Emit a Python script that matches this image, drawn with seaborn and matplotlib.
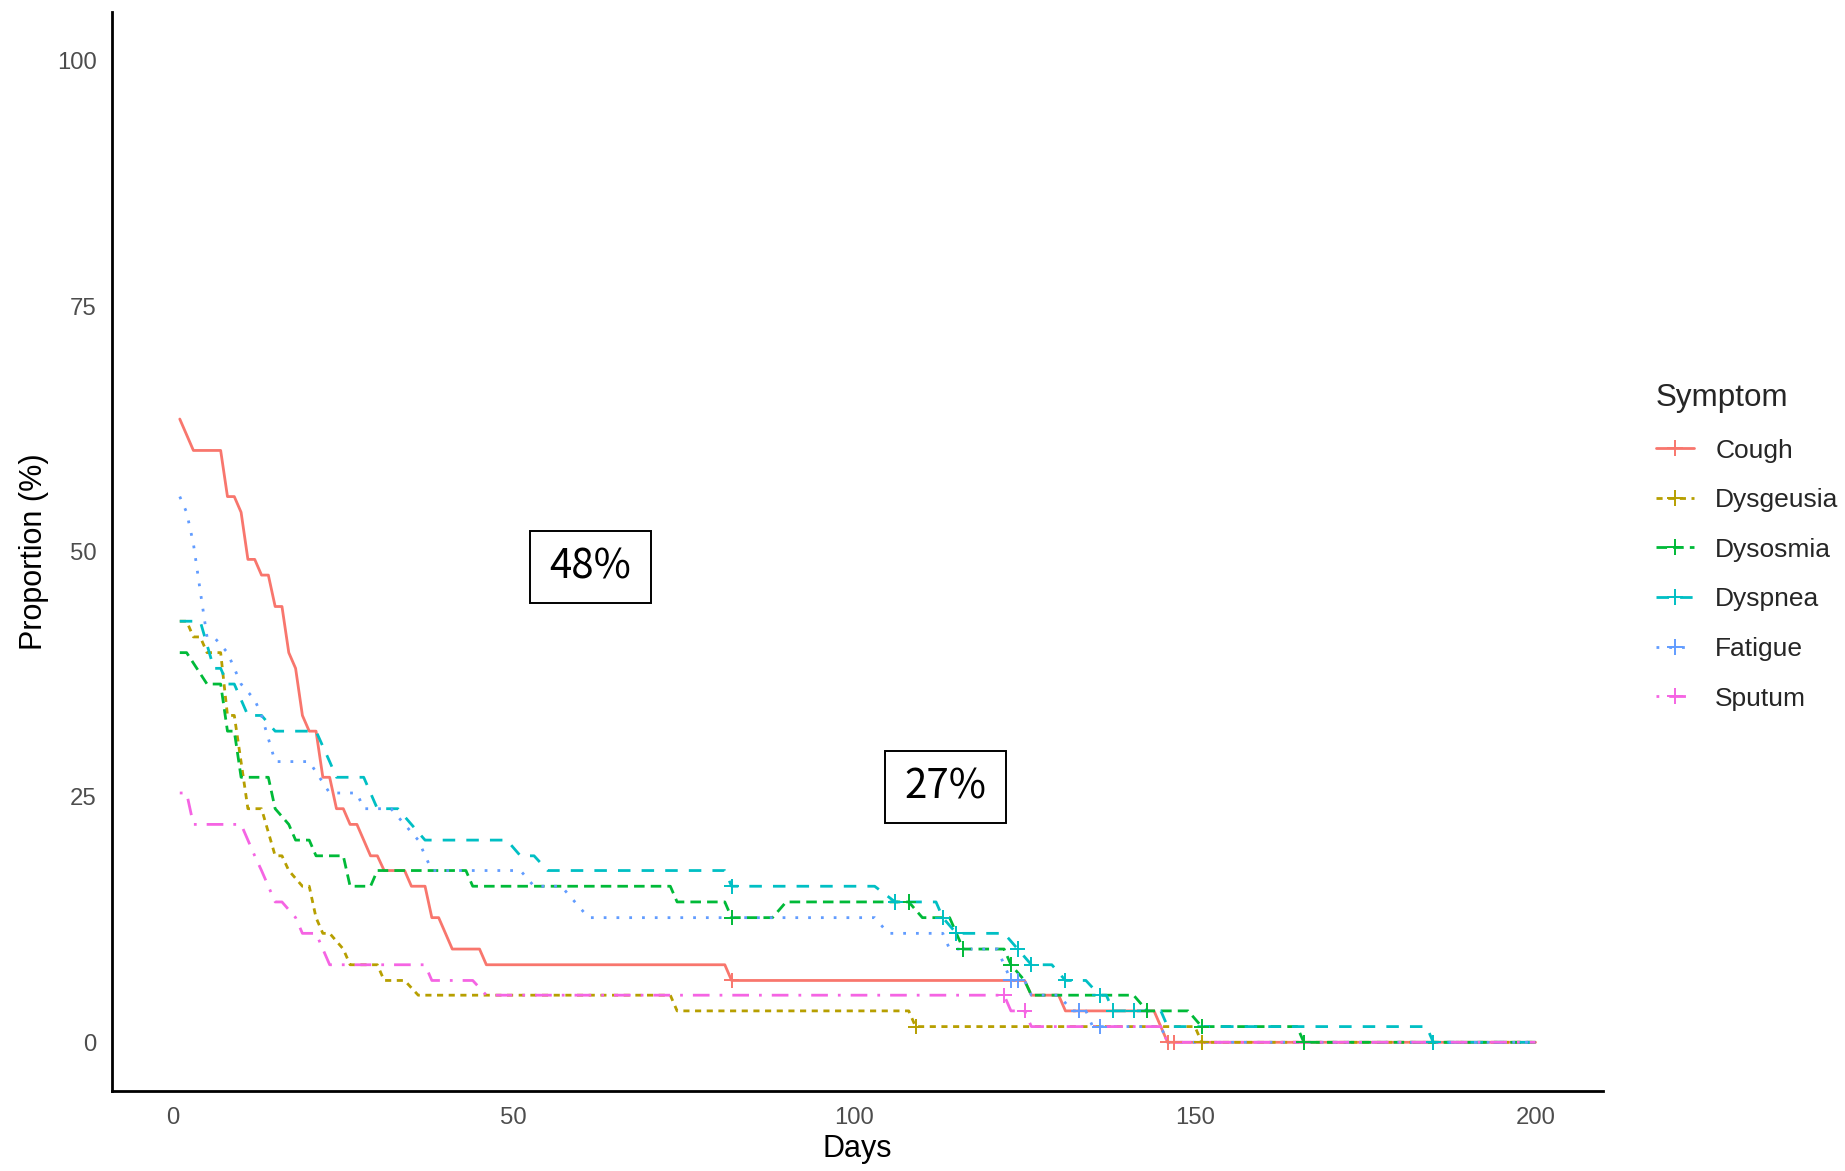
import matplotlib
matplotlib.use("Agg")
import matplotlib.pyplot as plt
from matplotlib.lines import Line2D
from matplotlib.patches import Rectangle
import seaborn as sns
import pandas as pd

# ---------------- data ----------------
symptoms = ["Cough", "Dysgeusia", "Dysosmia", "Dyspnea", "Fatigue", "Sputum"]

cough_days = [1, 2, 3, 7, 8, 9, 10, 11, 12, 13, 14, 15, 16, 17, 18, 19, 20, 21, 22, 23, 24, 25, 26, 27,
              29, 30, 31, 34, 35, 37, 38, 39, 41, 45, 46, 81, 82, 125, 126, 130, 131, 144, 146, 200]
cough_pct = [63.5, 61.9, 60.3, 60.3, 55.6, 55.6, 54.0, 49.2, 49.2, 47.6, 47.6, 44.4, 44.4, 39.7, 38.1,
             33.3, 31.7, 31.7, 27.0, 27.0, 23.8, 23.8, 22.2, 22.2, 19.0, 19.0, 17.5, 17.5, 15.9, 15.9,
             12.7, 12.7, 9.5, 9.5, 7.9, 7.9, 6.3, 6.3, 4.8, 4.8, 3.2, 3.2, 0.0, 0.0]

dysgeusia_days = [1, 2, 3, 4, 5, 7, 8, 9, 11, 13, 15, 16, 17, 19, 20, 21, 22, 23, 25, 26, 30, 31, 34,
                  36, 73, 74, 108, 109, 150, 151, 200]
dysgeusia_pct = [42.9, 42.9, 41.3, 41.3, 39.7, 39.7, 33.3, 33.3, 23.8, 23.8, 19.0, 19.0, 17.5, 15.9,
                 15.9, 12.7, 11.1, 11.1, 9.5, 7.9, 7.9, 6.3, 6.3, 4.8, 4.8, 3.2, 3.2, 1.6, 1.6, 0.0, 0.0]

dysosmia_days = [1, 2, 5, 7, 8, 9, 10, 14, 15, 17, 18, 20, 21, 25, 26, 29, 30, 43, 44, 73, 74, 81, 82,
                 88, 90, 108, 110, 114, 115, 116, 122, 123, 125, 126, 141, 143, 149, 151, 165, 166, 200]
dysosmia_pct = [39.7, 39.7, 36.5, 36.5, 31.7, 31.7, 27.0, 27.0, 23.8, 22.2, 20.6, 20.6, 19.0, 19.0,
                15.9, 15.9, 17.5, 17.5, 15.9, 15.9, 14.3, 14.3, 12.7, 12.7, 14.3, 14.3, 12.7, 12.7,
                11.1, 9.5, 9.5, 7.9, 6.3, 4.8, 4.8, 3.2, 3.2, 1.6, 1.6, 0.0, 0.0]

dyspnea_days = [1, 4, 6, 7, 8, 9, 10, 11, 12, 13, 15, 21, 23, 24, 28, 30, 33, 35, 37, 49, 51, 53, 55,
                81, 82, 103, 106, 112, 113, 115, 122, 124, 126, 129, 131, 134, 136, 137, 138, 145, 146,
                184, 185, 200]
dyspnea_pct = [42.9, 42.9, 38.1, 38.1, 36.5, 36.5, 34.9, 33.3, 33.3, 33.3, 31.7, 31.7, 28.6, 27.0,
               27.0, 23.8, 23.8, 22.2, 20.6, 20.6, 19.0, 19.0, 17.5, 17.5, 15.9, 15.9, 14.3, 14.3,
               12.7, 11.1, 11.1, 9.5, 7.9, 7.9, 6.3, 6.3, 4.8, 4.8, 3.2, 3.2, 1.6, 1.6, 0.0, 0.0]

fatigue_days = [1, 2, 3, 4, 5, 6, 8, 10, 12, 13, 15, 20, 23, 27, 28, 32, 34, 36, 38, 51, 53, 57, 61,
                103, 105, 113, 114, 121, 123, 125, 126, 130, 132, 134, 135, 145, 146, 200]
fatigue_pct = [55.6, 54.0, 50.8, 46.0, 41.3, 41.3, 39.7, 36.5, 34.9, 33.3, 28.6, 28.6, 25.4, 25.4,
               23.8, 23.8, 22.2, 20.6, 17.5, 17.5, 15.9, 15.9, 12.7, 12.7, 11.1, 11.1, 9.5, 9.5, 6.3,
               6.3, 4.8, 4.8, 3.2, 3.2, 1.6, 1.6, 0.0, 0.0]

sputum_days = [1, 2, 3, 10, 12, 13, 14, 15, 16, 18, 19, 21, 22, 23, 37, 38, 44, 46, 122, 123, 125,
               126, 145, 146, 200]
sputum_pct = [25.4, 25.4, 22.2, 22.2, 19.0, 17.5, 15.9, 14.3, 14.3, 12.7, 11.1, 11.1, 9.5, 7.9, 7.9,
              6.3, 6.3, 4.8, 4.8, 3.2, 3.2, 1.6, 1.6, 0.0, 0.0]

# censoring marks (+)
cough_cens_days = [82, 146, 147]
cough_cens_pct = [6.3, 0.0, 0.0]
dysgeusia_cens_days = [109, 151]
dysgeusia_cens_pct = [1.6, 0.0]
dysosmia_cens_days = [82, 108, 115, 116, 123, 143, 151, 166]
dysosmia_cens_pct = [12.7, 14.3, 11.1, 9.5, 7.9, 3.2, 1.6, 0.0]
dyspnea_cens_days = [82, 106, 113, 115, 124, 126, 131, 136, 138, 141, 185]
dyspnea_cens_pct = [15.9, 14.3, 12.7, 11.1, 9.5, 7.9, 6.3, 4.8, 3.2, 3.2, 0.0]
fatigue_cens_days = [123, 124, 133, 136]
fatigue_cens_pct = [6.3, 6.3, 3.2, 1.6]
sputum_cens_days = [122, 125]
sputum_cens_pct = [4.8, 3.2]

label_text = ["48%", "27%"]
label_x = [61.3, 113.4]
label_y = [48.4, 26.0]

x_ticks = [0, 50, 100, 150, 200]
y_ticks = [0, 25, 50, 75, 100]

# ---------------- assemble ----------------
series = {
    "Cough": (cough_days, cough_pct, cough_cens_days, cough_cens_pct),
    "Dysgeusia": (dysgeusia_days, dysgeusia_pct, dysgeusia_cens_days, dysgeusia_cens_pct),
    "Dysosmia": (dysosmia_days, dysosmia_pct, dysosmia_cens_days, dysosmia_cens_pct),
    "Dyspnea": (dyspnea_days, dyspnea_pct, dyspnea_cens_days, dyspnea_cens_pct),
    "Fatigue": (fatigue_days, fatigue_pct, fatigue_cens_days, fatigue_cens_pct),
    "Sputum": (sputum_days, sputum_pct, sputum_cens_days, sputum_cens_pct),
}
rows, crows = [], []
for s in symptoms:
    d, p, cd, cp = series[s]
    rows += [{"Symptom": s, "Days": a, "Proportion": b} for a, b in zip(d, p)]
    crows += [{"Symptom": s, "Days": a, "Proportion": b} for a, b in zip(cd, cp)]
df = pd.DataFrame(rows)
cdf = pd.DataFrame(crows)

palette = {"Cough": "#F8766D", "Dysgeusia": "#B79F00", "Dysosmia": "#00BA38",
           "Dyspnea": "#00BFC4", "Fatigue": "#619CFF", "Sputum": "#F564E3"}
dashes = {"Cough": "", "Dysgeusia": (2.2, 2.0), "Dysosmia": (3.8, 2.2),
          "Dyspnea": (4.5, 4.0), "Fatigue": (1.0, 3.6), "Sputum": (1.0, 3.6, 6.0, 3.6)}

sns.set_style("white")
plt.rcParams["font.family"] = ["Liberation Sans", "DejaVu Sans"]

fig = plt.figure(figsize=(9.225, 5.855), dpi=200)
ax = fig.add_axes([0.0607, 0.068, 0.8083, 0.922])

LW = 1.0
sns.lineplot(data=df, x="Days", y="Proportion", hue="Symptom", style="Symptom",
             hue_order=symptoms, style_order=symptoms, palette=palette, dashes=dashes,
             estimator=None, sort=False, linewidth=LW, legend=False, ax=ax)
sns.scatterplot(data=cdf, x="Days", y="Proportion", hue="Symptom", hue_order=symptoms,
                palette=palette, marker="+", s=30, linewidth=0.7, legend=False, ax=ax, zorder=3)

for t, x, y in zip(label_text, label_x, label_y):
    ax.add_patch(Rectangle((x - 8.9, y - 3.65), 17.8, 7.3, facecolor="white",
                           edgecolor="black", linewidth=0.7, zorder=4))
    ax.text(x, y, t, ha="center", va="center", fontsize=14.5, zorder=5,
            family=["Noto Sans CJK JP", "DejaVu Sans"], color="black")

ax.set_xlim(-8.95, 209.95)
ax.set_ylim(-5, 105)
ax.set_xticks(x_ticks)
ax.set_yticks(y_ticks)
ax.set_xticklabels([str(v) for v in x_ticks])
ax.set_yticklabels([str(v) for v in y_ticks])
ax.tick_params(axis="both", length=3.0, width=0.75, color="#333333", labelcolor="#4D4D4D",
               labelsize=8.6, pad=2.5, direction="out")
for side in ["top", "right"]:
    ax.spines[side].set_visible(False)
for side in ["left", "bottom"]:
    ax.spines[side].set_color("black")
    ax.spines[side].set_linewidth(1.0)
ax.set_xlabel("Days", fontsize=11, color="black", labelpad=2)
ax.set_ylabel("Proportion (%)", fontsize=11, color="black", labelpad=3)
ax.grid(False)

handles = []
for s in symptoms:
    dsh = dashes[s]
    kw = dict(color=palette[s], lw=LW, marker="+", markersize=6, markeredgewidth=0.7)
    if dsh == "":
        h = Line2D([0], [0], linestyle="-", **kw)
    else:
        h = Line2D([0], [0], dashes=dsh, **kw)
    handles.append(h)
leg = fig.legend(handles, symptoms, title="Symptom", loc="upper left",
                 bbox_to_anchor=(0.8975, 0.673), frameon=False, fontsize=9.5,
                 title_fontsize=11.3, handlelength=1.45, handletextpad=0.8,
                 labelspacing=0.97, borderpad=0, borderaxespad=0, alignment="left")

fig.savefig("out.png", dpi=200)
